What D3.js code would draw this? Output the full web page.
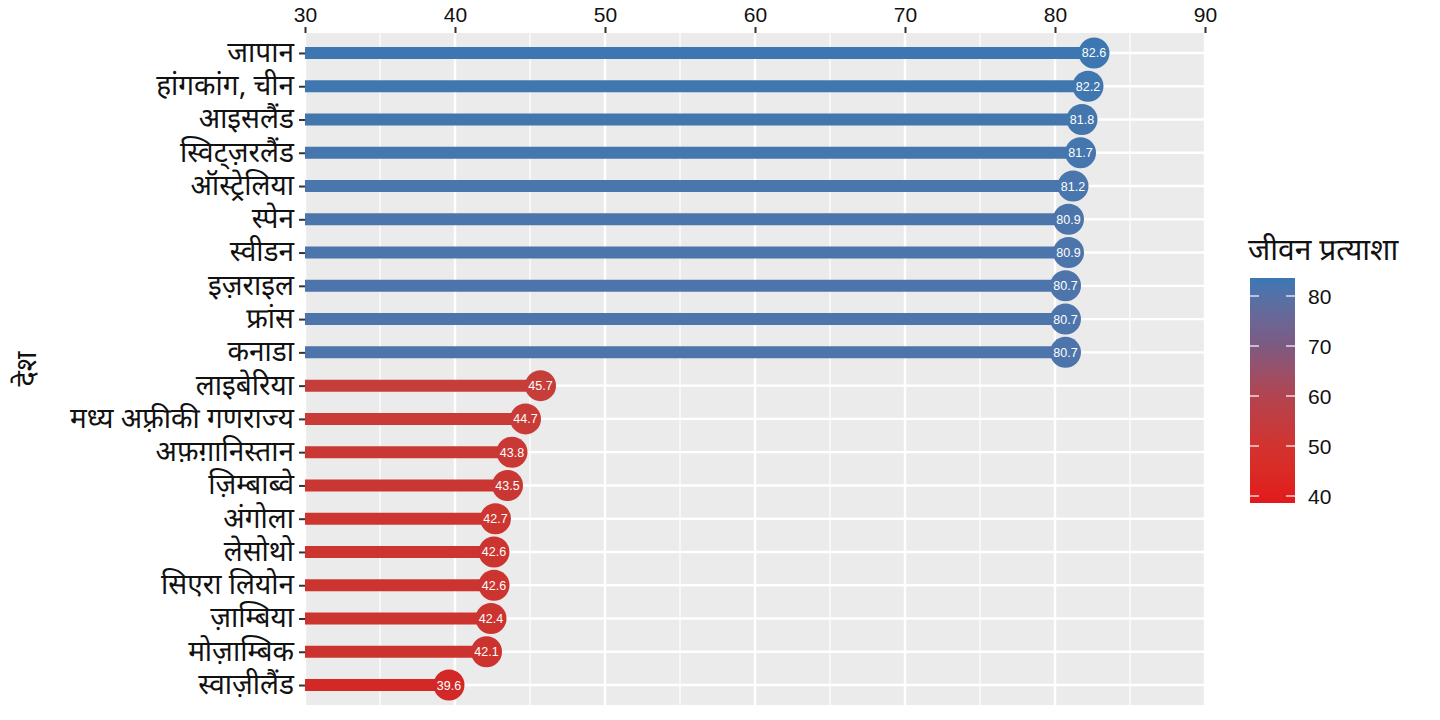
<!DOCTYPE html>
<html>
<head>
<meta charset="utf-8">
<script src="https://cdn.jsdelivr.net/npm/d3@7"></script>
<style>
  body { margin: 0; background: #fff; }
  svg { display: block; }
</style>
</head>
<body>
<script>
var width  = 1440;
var height = 720;

// countries, top to bottom, and their life expectancy
var countries = [
  'जापान', 'हांगकांग, चीन', 'आइसलैंड', 'स्विट्ज़रलैंड', 'ऑस्ट्रेलिया',
  'स्पेन', 'स्वीडन', 'इज़राइल', 'फ्रांस', 'कनाडा',
  'लाइबेरिया', 'मध्य अफ़्रीकी गणराज्य', 'अफ़ग़ानिस्तान', 'ज़िम्बाब्वे', 'अंगोला',
  'लेसोथो', 'सिएरा लियोन', 'ज़ाम्बिया', 'मोज़ाम्बिक', 'स्वाज़ीलैंड'
];
var lifeExp = [
  82.6, 82.2, 81.8, 81.7, 81.2,
  80.9, 80.9, 80.7, 80.7, 80.7,
  45.7, 44.7, 43.8, 43.5, 42.7,
  42.6, 42.6, 42.4, 42.1, 39.6
];
var xTicks      = [30, 40, 50, 60, 70, 80, 90];
var xMinor      = [35, 45, 55, 65, 75, 85];
var legendTicks = [40, 50, 60, 70, 80];

var rows = countries.map(function(c, i){ return { name: c, value: lifeExp[i] }; });

var devFont = '"Noto Sans Devanagari", "Noto Sans", "DejaVu Sans", sans-serif';
var numFont = '"Liberation Sans", Arial, sans-serif';

var panel = { left: 305, right: 1205, top: 33, bottom: 705 };

var svg = d3.select('body')
            .append('svg')
            .attr('width', width)
            .attr('height', height);

var x = d3.scaleLinear()
          .domain([30, 90])
          .range([panel.left, panel.right]);

var y = d3.scalePoint()
          .domain(countries)
          .range([panel.top, panel.bottom])
          .padding(0.6);

var color = d3.scaleLinear()
              .domain([39.6, 82.6])
              .range(['#d22926', '#3d77b1'])
              .interpolate(d3.interpolateLab);

// legend gradient is a bit brighter at the red end
var legendColor = d3.scaleLinear()
                    .domain([38.6, 50, 60, 70, 83.6])
                    .range(['#e3191b', '#d2332f', '#b24350', '#7c5a82', '#3a78b5'])
                    .interpolate(d3.interpolateLab);

// panel background + grid
svg.append('rect')
   .attr('x', panel.left)
   .attr('y', panel.top)
   .attr('width', panel.right - panel.left)
   .attr('height', panel.bottom - panel.top)
   .attr('fill', '#ebebeb');

svg.selectAll('line.minor')
   .data(xMinor)
   .enter()
   .append('line')
   .attr('x1', function(d){ return x(d); })
   .attr('x2', function(d){ return x(d); })
   .attr('y1', panel.top)
   .attr('y2', panel.bottom)
   .attr('stroke', '#fff')
   .attr('stroke-width', 1.2);

svg.selectAll('line.major')
   .data(xTicks)
   .enter()
   .append('line')
   .attr('x1', function(d){ return x(d); })
   .attr('x2', function(d){ return x(d); })
   .attr('y1', panel.top)
   .attr('y2', panel.bottom)
   .attr('stroke', '#fff')
   .attr('stroke-width', 2.4);

svg.selectAll('line.hgrid')
   .data(countries)
   .enter()
   .append('line')
   .attr('x1', panel.left)
   .attr('x2', panel.right)
   .attr('y1', function(d){ return y(d); })
   .attr('y2', function(d){ return y(d); })
   .attr('stroke', '#fff')
   .attr('stroke-width', 2.4);

// top axis
var xAxis = svg.append('g')
               .attr('transform', 'translate(0,' + panel.top + ')')
               .call(d3.axisTop(x).tickValues(xTicks).tickSize(6).tickPadding(5));
xAxis.select('.domain').remove();
xAxis.selectAll('line').attr('stroke', '#333').attr('stroke-width', 2);
xAxis.selectAll('text')
     .attr('fill', '#111')
     .style('font-family', numFont)
     .style('font-size', '21px');

// left axis
var yAxis = svg.append('g')
               .attr('transform', 'translate(' + panel.left + ',0)')
               .call(d3.axisLeft(y).tickSize(6).tickPadding(5));
yAxis.select('.domain').remove();
yAxis.selectAll('line').attr('stroke', '#333').attr('stroke-width', 2);
yAxis.selectAll('text')
     .attr('fill', '#111')
     .attr('dy', '0.3em')
     .style('font-family', devFont)
     .style('font-size', '28px');

svg.append('text')
   .attr('transform', 'translate(36,' + ((panel.top + panel.bottom) / 2) + ') rotate(-90)')
   .attr('text-anchor', 'middle')
   .style('font-family', devFont)
   .style('font-size', '29px')
   .attr('fill', '#111')
   .text('देश');

// lollipops
svg.selectAll('line.stick')
   .data(rows)
   .enter()
   .append('line')
   .attr('x1', x(30))
   .attr('x2', function(d){ return x(d.value); })
   .attr('y1', function(d){ return y(d.name); })
   .attr('y2', function(d){ return y(d.name); })
   .attr('stroke', function(d){ return color(d.value); })
   .attr('stroke-width', 12);

svg.selectAll('circle.dot')
   .data(rows)
   .enter()
   .append('circle')
   .attr('cx', function(d){ return x(d.value); })
   .attr('cy', function(d){ return y(d.name); })
   .attr('r', 15.5)
   .attr('fill', function(d){ return color(d.value); });

svg.selectAll('text.val')
   .data(rows)
   .enter()
   .append('text')
   .attr('x', function(d){ return x(d.value); })
   .attr('y', function(d){ return y(d.name); })
   .attr('dy', '0.36em')
   .attr('text-anchor', 'middle')
   .style('font-family', numFont)
   .style('font-size', '12.5px')
   .attr('fill', '#fff')
   .text(function(d){ return d3.format('.1f')(d.value); });

// legend colour bar
var ly = d3.scaleLinear()
           .domain([40, 80])
           .range([496, 296]);
var legendLo = 38.6, legendHi = 83.6;

var defs = svg.append('defs');
var grad = defs.append('linearGradient')
               .attr('id', 'lexp')
               .attr('x1', 0).attr('x2', 0)
               .attr('y1', 1).attr('y2', 0);
d3.range(0, 1.001, 0.05).forEach(function(t){
  var v = legendLo + t * (legendHi - legendLo);
  grad.append('stop')
      .attr('offset', t)
      .attr('stop-color', legendColor(v));
});

svg.append('text')
   .attr('x', 1248)
   .attr('y', 260)
   .style('font-family', devFont)
   .style('font-size', '30px')
   .attr('fill', '#111')
   .text('जीवन प्रत्याशा');

svg.append('rect')
   .attr('x', 1250)
   .attr('y', ly(legendHi))
   .attr('width', 45)
   .attr('height', ly(legendLo) - ly(legendHi))
   .attr('fill', 'url(#lexp)');

var lt = svg.selectAll('g.ltick')
            .data(legendTicks)
            .enter()
            .append('g')
            .attr('transform', function(d){ return 'translate(0,' + ly(d) + ')'; });
lt.append('line')
  .attr('x1', 1250).attr('x2', 1259)
  .attr('stroke', '#fff').attr('stroke-width', 1.2);
lt.append('line')
  .attr('x1', 1286).attr('x2', 1295)
  .attr('stroke', '#fff').attr('stroke-width', 1.2);
lt.append('text')
  .attr('x', 1308)
  .attr('dy', '0.36em')
  .style('font-family', numFont)
  .style('font-size', '21px')
  .attr('fill', '#111')
  .text(function(d){ return d; });
</script>
</body>
</html>
